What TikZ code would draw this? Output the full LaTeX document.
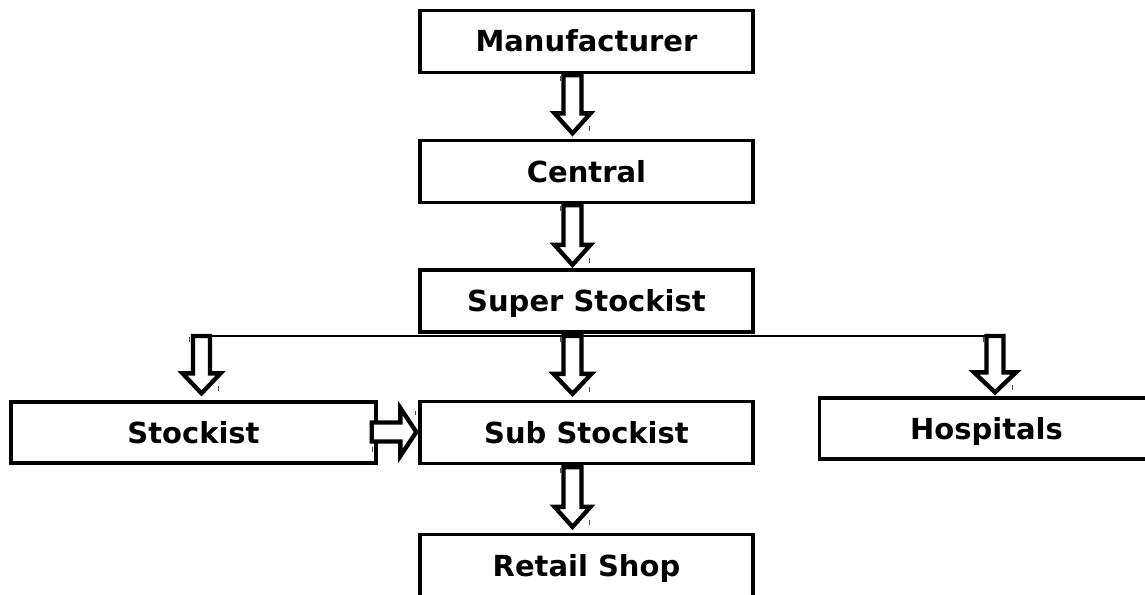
\documentclass[tikz,border=0pt]{standalone}
\usepackage{fontspec}
\setmainfont{DejaVu Sans}
\usetikzlibrary{calc}
\tikzset{
  box/.style={draw, line width=3.3pt, rectangle, inner sep=0pt, fill=white,
    text height=21pt, text depth=0pt,
    font=\fontsize{29}{34}\selectfont\bfseries},
  blk/.style={draw, line width=4.3pt, fill=white, miter limit=10},
  conn/.style={draw, line width=1.5pt},
  tick/.style={draw, line width=0.9pt, black!70}
}
\newcommand\vblock[5]{%
  \draw[blk] let \p1=#1, \p2=#2 in
    (\x1-#3,\y1) -- (\x1+#3,\y1) -- (\x1+#3,\y2+#5) -- (\x1+#4,\y2+#5) --
    (\x1,\y2) -- (\x1-#4,\y2+#5) -- (\x1-#3,\y2+#5) -- cycle;
  \draw[tick] let \p1=#1, \p2=#2 in
    (\x1-12pt,\y1-1pt) -- (\x1-12pt,\y1-6pt)
    (\x1+17pt,\y2+2pt) -- (\x1+17pt,\y2+7pt);
}
\begin{document}
\begin{tikzpicture}[x=1pt,y=-1pt]
\useasboundingbox (0,0) rectangle (1145,594);
\clip (0,0) rectangle (1145,594);
% boxes
\node[box, minimum width=333pt, minimum height=62pt] (man) at (586.5,41.5) {Manufacturer};
\node[box, minimum width=333pt, minimum height=62pt] (cen) at (586.5,171.5) {Central};
\node[box, minimum width=333pt, minimum height=62pt] (sup) at (586.5,301) {Super Stockist};
\node[box, minimum width=365pt, minimum height=61pt] (stk) at (193.5,432.5) {Stockist};
\node[box, minimum width=333pt, minimum height=62pt] (sub) at (586.5,432.5) {Sub Stockist};
\node[box, minimum width=334pt, minimum height=61pt] (hos) at (986.5,428.5) {Hospitals};
\node[box, minimum width=333pt, minimum height=62pt] (ret) at (586.5,565.5) {Retail Shop};
% junction line
\coordinate (bl) at (201.5,336);
\coordinate (bm) at (572.5,336);
\coordinate (br) at (995,336);
\draw[conn] (bl) -- (br);
% vertical block arrows
\vblock{($(man.south)+(-14,1)$)}{($(cen.north)+(-14,-5.5)$)}{9pt}{18pt}{20pt}
\vblock{($(cen.south)+(-14,1)$)}{($(sup.north)+(-14,-3.5)$)}{9pt}{18pt}{20pt}
\vblock{(bl)}{($(stk.north -| bl)+(0,-7)$)}{8.5pt}{19pt}{20pt}
\vblock{(bm)}{($(sub.north -| bm)+(0,-6)$)}{9pt}{19pt}{20pt}
\vblock{(br)}{($(hos.north -| br)+(0,-4)$)}{8.5pt}{21pt}{20pt}
\vblock{($(sub.south)+(-14,2)$)}{($(ret.north)+(-14,-6)$)}{9pt}{18pt}{20pt}
% horizontal block arrow
\draw[blk] let \p1=($(stk.east)+(-6,-0.5)$), \p2=($(sub.west)+(-2,0)$) in
  (\x1,\y1+9.5pt) -- (\x2-16pt,\y1+9.5pt) -- (\x2-16pt,\y1+24pt) -- (\x2,\y1) --
  (\x2-16pt,\y1-24pt) -- (\x2-16pt,\y1-9.5pt) -- (\x1,\y1-9.5pt) -- cycle;
\draw[tick] let \p1=($(stk.east)+(-6,-0.5)$), \p2=($(sub.west)+(-2,0)$) in
  (\x1+1pt,\y1-15pt) -- (\x1+1pt,\y1-20pt)
  (\x2-1pt,\y1+17pt) -- (\x2-1pt,\y1+21pt);
\end{tikzpicture}
\end{document}
